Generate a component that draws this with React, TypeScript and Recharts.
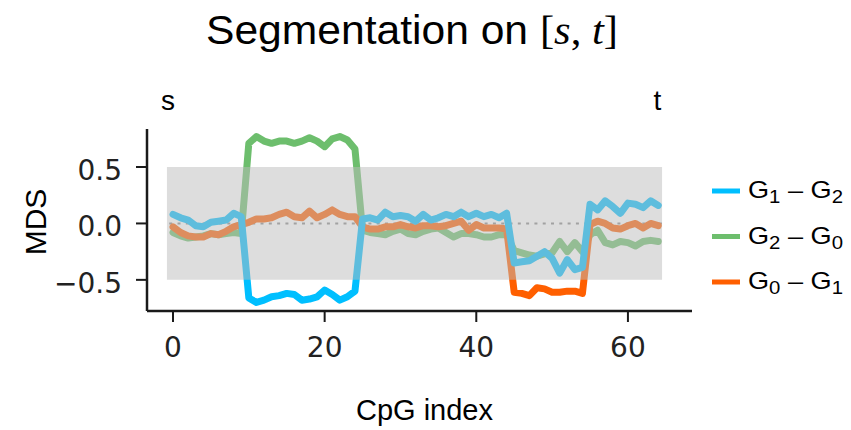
import React from 'react';
import { LineChart, Line, XAxis, YAxis, ReferenceArea, ReferenceLine } from 'recharts';

// MDS differences between the three groups along the CpG positions.
const g1g2 = [
  0.08, 0.05, 0.03, -0.02, -0.03, 0.01, 0.02, 0.03, 0.09, 0.06,
  -0.66, -0.7, -0.68, -0.65, -0.64, -0.62, -0.63, -0.68, -0.67, -0.65, -0.59, -0.63, -0.68, -0.65, -0.6,
  0.04, 0.05, 0.03, 0.1, 0.06, 0.07, 0.06, 0.02, 0.08, 0.03, 0.05, 0.08, 0.06, 0.1, 0.06, 0.09, 0.06, 0.08, 0.05, 0.09,
  -0.35, -0.34, -0.33, -0.29, -0.25, -0.31, -0.44, -0.32, -0.41, -0.39,
  0.17, 0.12, 0.2, 0.15, 0.09, 0.18, 0.17, 0.14, 0.2, 0.16,
];
const g2g0 = [
  -0.08, -0.11, -0.13, -0.12, -0.11, -0.09, -0.1, -0.09, -0.08, -0.09,
  0.71, 0.77, 0.73, 0.71, 0.73, 0.73, 0.71, 0.73, 0.76, 0.73, 0.68, 0.75, 0.77, 0.74, 0.66,
  -0.06, -0.08, -0.09, -0.1, -0.07, -0.05, -0.09, -0.1, -0.07, -0.05, -0.04, -0.08, -0.12, -0.09, -0.09, -0.1, -0.12, -0.12, -0.1, -0.1,
  -0.24, -0.26, -0.28, -0.29, -0.27, -0.26, -0.16, -0.25, -0.17, -0.25,
  -0.1, -0.06, -0.17, -0.19, -0.16, -0.17, -0.2, -0.16, -0.15, -0.16,
];
const g0g1 = [
  -0.03, -0.08, -0.11, -0.12, -0.12, -0.09, -0.1, -0.07, -0.03, -0.01,
  0.01, 0.04, 0.04, 0.05, 0.08, 0.1, 0.06, 0.05, 0.11, 0.05, 0.08, 0.12, 0.08, 0.06, 0.06,
  -0.03, -0.05, -0.05, -0.03, -0.03, -0.01, -0.03, -0.04, -0.02, -0.02, -0.03, -0.02, 0.0, 0.02, -0.06, -0.01, -0.04, -0.04, -0.04, -0.05,
  -0.61, -0.62, -0.64, -0.57, -0.58, -0.61, -0.61, -0.6, -0.6, -0.62,
  -0.01, 0.02, 0.0, -0.04, -0.05, -0.02, 0.0, -0.04, 0.0, -0.02,
];

const xTicks = [0, 20, 40, 60];
const yTicks = [-0.5, 0, 0.5];
const segS = -0.8;
const segT = 64.5;
const bandLow = -0.5;
const bandHigh = 0.5;

const series = [
  { key: 'g1g2', a: '1', b: '2', color: '#00bfff' },
  { key: 'g2g0', a: '2', b: '0', color: '#6dbe6d' },
  { key: 'g0g1', a: '0', b: '1', color: '#ff5f00' },
];
const drawOrder = ['g2g0', 'g0g1', 'g1g2'];

const data = g1g2.map((v, i) => ({ idx: i, g1g2: v, g2g0: g2g0[i], g0g1: g0g1[i] }));

const W = 851;
const H = 430;
const X_DOMAIN: [number, number] = [-3.43, 68.45];
const Y_DOMAIN: [number, number] = [-0.776, 0.837];
const SANS = '"Liberation Sans", Arial, sans-serif';
const SERIF = '"Liberation Serif", serif';
const TICK_FONT = '"DejaVu Sans", sans-serif';
const INK = '#1a1a1a';

const fmtY = (v: number) => (v < 0 ? '\u2212' : '') + Math.abs(v).toFixed(1);

export default function App() {
  return (
    <div style={{ position: 'absolute', left: 0, top: 0, width: W, height: H, background: '#fff' }}>
      <LineChart width={W} height={H} data={data} margin={{ top: 129, right: 159, bottom: 79, left: 87 }}>
        <XAxis
          dataKey="idx"
          type="number"
          domain={X_DOMAIN}
          allowDataOverflow
          ticks={xTicks}
          height={40}
          tickSize={11}
          tickMargin={15}
          axisLine={{ stroke: INK, strokeWidth: 2.5 }}
          tickLine={{ stroke: INK, strokeWidth: 2 }}
          tick={{ fill: '#222', fontSize: 28, fontFamily: TICK_FONT }}
          label={{
            content: ({ viewBox }: any) => (
              <text x={viewBox.x + viewBox.width / 2 + 5} y={420} textAnchor="middle" fontSize={29} fontFamily={SANS} fill="#000">
                CpG index
              </text>
            ),
          }}
        />
        <YAxis
          type="number"
          domain={Y_DOMAIN}
          allowDataOverflow
          ticks={yTicks}
          width={60}
          tickSize={11}
          tickMargin={14}
          tickFormatter={fmtY}
          axisLine={{ stroke: INK, strokeWidth: 2.5 }}
          tickLine={{ stroke: INK, strokeWidth: 2 }}
          tick={{ fill: '#222', fontSize: 28, fontFamily: TICK_FONT, dy: 3 }}
          label={{
            content: ({ viewBox }: any) => {
              const cx = 46;
              const cy = viewBox.y + viewBox.height / 2 + 2;
              return (
                <text x={cx} y={cy} transform={`rotate(-90, ${cx}, ${cy})`} textAnchor="middle" fontSize={30} fontFamily={SANS} fill="#000">
                  MDS
                </text>
              );
            },
          }}
        />
        <ReferenceLine
          segment={[{ x: -0.5, y: 0 }, { x: 64.9, y: 0 }]}
          stroke="#888"
          strokeWidth={2}
          strokeDasharray="3 5.3"
        />
        {drawOrder.map((k) => {
          const s = series.find((d) => d.key === k)!;
          return (
            <Line
              key={k}
              type="linear"
              dataKey={k}
              stroke={s.color}
              strokeWidth={7}
              strokeLinejoin="round"
              strokeLinecap="round"
              dot={false}
              activeDot={false}
              isAnimationActive={false}
            />
          );
        })}
        <ReferenceLine
          x={-0.65}
          stroke="none"
          label={{ value: 's', position: 'top', offset: 19, fontSize: 28, fontFamily: SANS, fill: '#000' }}
        />
        <ReferenceLine
          x={63.9}
          stroke="none"
          label={{ value: 't', position: 'top', offset: 19, fontSize: 28, fontFamily: SANS, fill: '#000' }}
        />
      </LineChart>

      {/* translucent segment band laid over the series, same scales as the chart below */}
      <div style={{ position: 'absolute', left: 0, top: 0, pointerEvents: 'none' }}>
        <LineChart width={W} height={H} data={data} margin={{ top: 129, right: 159, bottom: 119, left: 147 }}>
          <XAxis dataKey="idx" type="number" domain={X_DOMAIN} allowDataOverflow hide />
          <YAxis type="number" domain={Y_DOMAIN} allowDataOverflow hide />
          <ReferenceArea x1={segS} x2={segT} y1={bandLow} y2={bandHigh} fill="#bbbbbb" fillOpacity={0.5} stroke="none" />
        </LineChart>
      </div>

      <svg width={W} height={H} style={{ position: 'absolute', left: 0, top: 0, pointerEvents: 'none' }}>
        <text x={206} y={44} fontSize={41} fill="#000" textLength={412} lengthAdjust="spacingAndGlyphs">
          <tspan fontFamily={SANS}>Segmentation on </tspan>
          <tspan fontFamily={SERIF}>[</tspan>
          <tspan fontFamily={SERIF} fontStyle="italic">s</tspan>
          <tspan fontFamily={SERIF}>, </tspan>
          <tspan fontFamily={SERIF} fontStyle="italic">t</tspan>
          <tspan fontFamily={SERIF}>]</tspan>
        </text>
        {series.map((s, i) => {
          const y = 191 + 45.5 * i;
          return (
            <g key={s.key}>
              <line x1={712} x2={740} y1={y} y2={y} stroke={s.color} strokeWidth={5} />
              <text x={748} y={y + 7} fontSize={24} fontFamily={SANS} fill="#000" textLength={95} lengthAdjust="spacingAndGlyphs">
                G<tspan dy={5} fontSize={18}>{s.a}</tspan>
                <tspan dy={-5}> – G</tspan>
                <tspan dy={5} fontSize={18}>{s.b}</tspan>
              </text>
            </g>
          );
        })}
      </svg>
    </div>
  );
}
